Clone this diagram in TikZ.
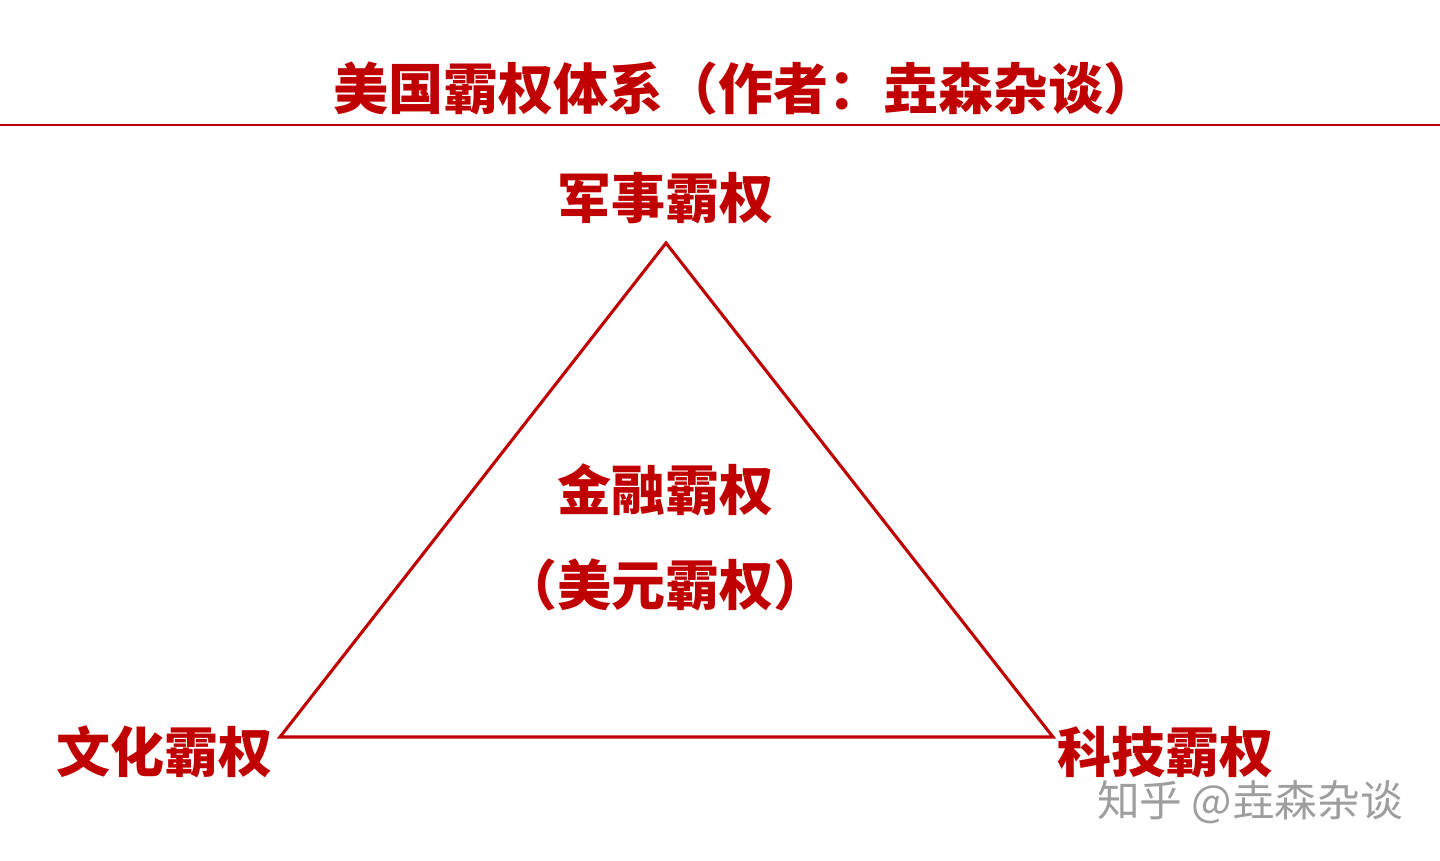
\documentclass[tikz,border=0pt]{standalone}
\usepackage{fontspec}
\newfontfamily\cjk{Noto Sans CJK SC}
\usepackage{xcolor}
\definecolor{hegred}{HTML}{C00000}
\tikzset{
	label/.style={text=hegred, inner sep=0pt, font=\cjk\bfseries\fontsize{40.5}{48}\selectfont},
	mark text/.style={text=black!38, inner sep=0pt, font=\cjk\fontsize{32}{38}\selectfont}
}

\begin{document}
\begin{tikzpicture}[x=0.75pt, y=-0.75pt]
	\useasboundingbox (0,0) rectangle (1440,861);
	% title and rule
	\node [label, font=\cjk\bfseries\fontsize{41.3}{50}\selectfont] (title) at (746,89) {美国霸权体系（作者：垚森杂谈）};
	\coordinate (L) at (0,125);
	\coordinate (R) at (1440,125);
	\draw [hegred, line width=1.8pt] (L) -- (R);
	% triangle
	\coordinate (M) at (666,243);
	\coordinate (W) at (280,737);
	\coordinate (T) at (1053,737);
	\draw [hegred, line width=2.3pt, line join=miter] (M) -- (T) -- (W) -- cycle;
	\node [label] (mil) at (665,198) {军事霸权};
	\node [label] (fin) at (665,490) {金融霸权};
	\node [label] (usd) at (665,585) {（美元霸权）};
	\node [label] (cul) at (164,752) {文化霸权};
	\node [label] (tec) at (1165,752) {科技霸权};
	\node [mark text] (wm) at (1250,802) {知乎 @垚森杂谈};
\end{tikzpicture}
\end{document}
